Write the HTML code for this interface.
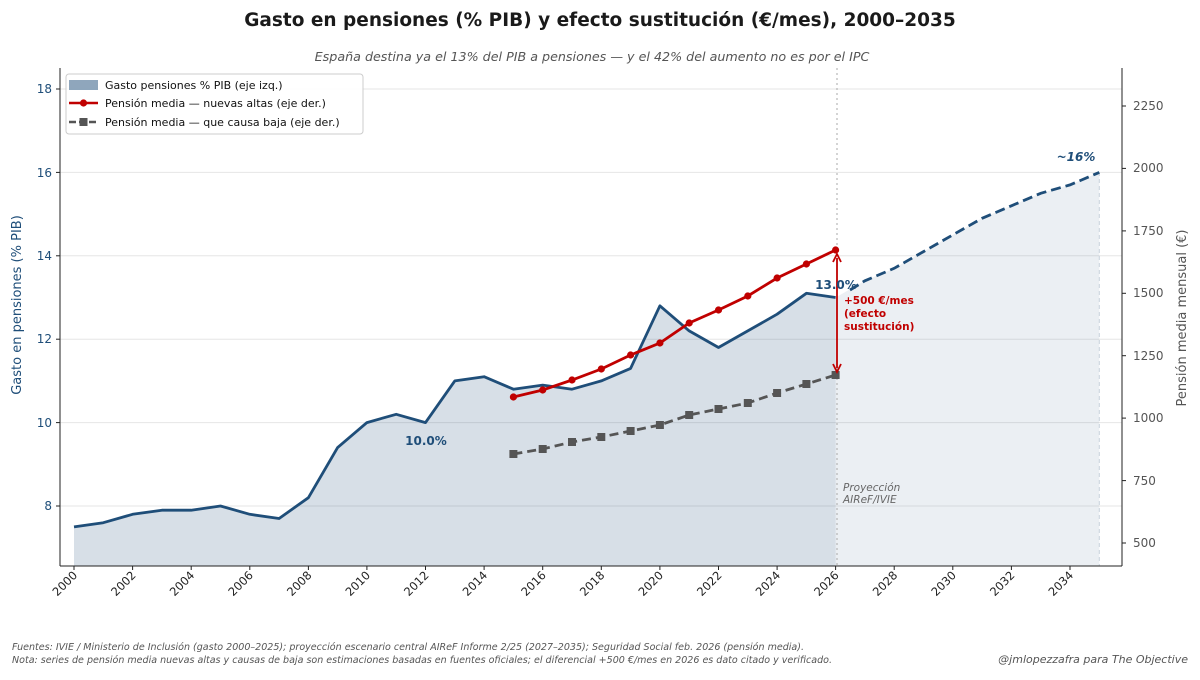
<!DOCTYPE html>
<html><head><meta charset="utf-8"><style>
body{margin:0;background:#fff;}
svg text{font-family:"DejaVu Sans","Liberation Sans",sans-serif;}
</style></head><body>
<svg width="1200" height="675" viewBox="0 0 1200 675" xmlns="http://www.w3.org/2000/svg">
<text x="600" y="26" text-anchor="middle" font-size="18.5" font-weight="bold" fill="#1a1a1a">Gasto en pensiones (% PIB) y efecto sustitución (€/mes), 2000–2035</text>
<text x="592" y="61" text-anchor="middle" font-size="12.7" font-style="italic" fill="#555">España destina ya el 13% del PIB a pensiones — y el 42% del aumento no es por el IPC</text>
<g stroke="#e6e6e6" stroke-width="1">
<line x1="60" x2="1122" y1="506" y2="506"/><line x1="60" x2="1122" y1="422.6" y2="422.6"/>
<line x1="60" x2="1122" y1="339.2" y2="339.2"/><line x1="60" x2="1122" y1="255.8" y2="255.8"/>
<line x1="60" x2="1122" y1="172.4" y2="172.4"/><line x1="60" x2="1122" y1="89" y2="89"/>
</g>
<polygon fill="#1f4e79" fill-opacity="0.18" points="74,566 74,526.9 103.3,522.7 132.6,514.3 161.9,510.2 191.2,510.2 220.5,506 249.8,514.3 279.1,518.5 308.4,497.7 337.6,447.6 366.9,422.6 396.2,414.3 425.5,422.6 454.8,380.9 484.1,376.7 513.4,389.2 542.7,385.1 572,389.2 601.3,380.9 630.6,368.4 659.9,305.8 689.2,330.9 718.5,347.5 747.8,330.9 777.1,314.2 806.4,293.3 835.6,297.5 835.6,566"/>
<polygon fill="#1f4e79" fill-opacity="0.09" points="835.6,566 835.6,297.5 864.9,280.8 894.2,268.3 923.5,251.6 952.8,234.9 982.1,218.3 1011.4,205.8 1040.7,193.3 1070,184.9 1099.3,172.4 1099.3,566"/>
<line x1="1099.3" x2="1099.3" y1="172" y2="566" stroke="#c8d2dc" stroke-dasharray="4,3"/>
<line x1="837" x2="837" y1="68" y2="566" stroke="#aaa" stroke-dasharray="2,3"/>
<polyline fill="none" stroke="#1f4e79" stroke-width="2.8" stroke-linejoin="round" points="74,526.9 103.3,522.7 132.6,514.3 161.9,510.2 191.2,510.2 220.5,506 249.8,514.3 279.1,518.5 308.4,497.7 337.6,447.6 366.9,422.6 396.2,414.3 425.5,422.6 454.8,380.9 484.1,376.7 513.4,389.2 542.7,385.1 572,389.2 601.3,380.9 630.6,368.4 659.9,305.8 689.2,330.9 718.5,347.5 747.8,330.9 777.1,314.2 806.4,293.3 835.6,297.5"/>
<polyline fill="none" stroke="#1f4e79" stroke-width="2.8" stroke-dasharray="10,5" points="850,290 864.9,280.8 894.2,268.3 923.5,251.6 952.8,234.9 982.1,218.3 1011.4,205.8 1040.7,193.3 1070,184.9 1099.3,172.4"/>
<polyline fill="none" stroke="#555" stroke-width="2.8" stroke-dasharray="9,5" points="513.4,454 542.7,449 572,442 601.3,437 630.6,431 659.9,425 689.2,415 718.5,409 747.8,403 777.1,393 806.4,384 835.6,375"/>
<g fill="#555">
<rect x="509.4" y="450" width="8" height="8"/><rect x="538.7" y="445" width="8" height="8"/><rect x="568" y="438" width="8" height="8"/><rect x="597.3" y="433" width="8" height="8"/><rect x="626.6" y="427" width="8" height="8"/><rect x="655.9" y="421" width="8" height="8"/><rect x="685.2" y="411" width="8" height="8"/><rect x="714.5" y="405" width="8" height="8"/><rect x="743.8" y="399" width="8" height="8"/><rect x="773.1" y="389" width="8" height="8"/><rect x="802.4" y="380" width="8" height="8"/><rect x="831.6" y="371" width="8" height="8"/>
</g>
<polyline fill="none" stroke="#c00000" stroke-width="2.8" points="513.4,397 542.7,390 572,380 601.3,369 630.6,355 659.9,343 689.2,323 718.5,310 747.8,296 777.1,278 806.4,264 835.6,250"/>
<g fill="#c00000">
<circle cx="513.4" cy="397" r="3.6"/><circle cx="542.7" cy="390" r="3.6"/><circle cx="572" cy="380" r="3.6"/><circle cx="601.3" cy="369" r="3.6"/><circle cx="630.6" cy="355" r="3.6"/><circle cx="659.9" cy="343" r="3.6"/><circle cx="689.2" cy="323" r="3.6"/><circle cx="718.5" cy="310" r="3.6"/><circle cx="747.8" cy="296" r="3.6"/><circle cx="777.1" cy="278" r="3.6"/><circle cx="806.4" cy="264" r="3.6"/><circle cx="835.6" cy="250" r="3.6"/>
</g>
<line x1="837" x2="837" y1="258" y2="368" stroke="#c00000" stroke-width="1.8"/>
<path d="M833,262 L837,254 L841,262" fill="none" stroke="#c00000" stroke-width="1.8"/>
<path d="M833,364 L837,372 L841,364" fill="none" stroke="#c00000" stroke-width="1.8"/>
<text x="844" y="304" font-size="10.5" font-weight="bold" fill="#c00000">+500 €/mes</text>
<text x="844" y="317" font-size="10.5" font-weight="bold" fill="#c00000">(efecto</text>
<text x="844" y="330" font-size="10.5" font-weight="bold" fill="#c00000">sustitución)</text>
<text x="836" y="289" text-anchor="middle" font-size="12" font-weight="bold" fill="#1f4e79">13.0%</text>
<text x="426" y="445" text-anchor="middle" font-size="12" font-weight="bold" fill="#1f4e79">10.0%</text>
<text x="1076" y="161" text-anchor="middle" font-size="12" font-weight="bold" font-style="italic" fill="#1f4e79">~16%</text>
<text x="843" y="491" font-size="10.5" font-style="italic" fill="#666">Proyección</text>
<text x="843" y="503" font-size="10.5" font-style="italic" fill="#666">AIReF/IVIE</text>
<g stroke="#222" stroke-width="1">
<line x1="60" x2="60" y1="68" y2="566"/><line x1="60" x2="1122" y1="566" y2="566"/><line x1="1122" x2="1122" y1="68" y2="566"/>
</g>
<g font-size="12" fill="#1f4e79" text-anchor="end">
<text x="52" y="510">8</text><text x="52" y="427">10</text><text x="52" y="343">12</text><text x="52" y="260">14</text><text x="52" y="177">16</text><text x="52" y="93">18</text>
</g>
<g stroke="#222"><line x1="56" x2="60" y1="506" y2="506"/><line x1="56" x2="60" y1="422.6" y2="422.6"/><line x1="56" x2="60" y1="339.2" y2="339.2"/><line x1="56" x2="60" y1="255.8" y2="255.8"/><line x1="56" x2="60" y1="172.4" y2="172.4"/><line x1="56" x2="60" y1="89" y2="89"/>
<line x1="1122" x2="1126" y1="543" y2="543"/><line x1="1122" x2="1126" y1="480.6" y2="480.6"/><line x1="1122" x2="1126" y1="418.1" y2="418.1"/><line x1="1122" x2="1126" y1="355.7" y2="355.7"/><line x1="1122" x2="1126" y1="293.3" y2="293.3"/><line x1="1122" x2="1126" y1="230.9" y2="230.9"/><line x1="1122" x2="1126" y1="168.4" y2="168.4"/><line x1="1122" x2="1126" y1="106" y2="106"/></g>
<g font-size="12" fill="#555">
<text x="1133" y="547">500</text><text x="1133" y="485">750</text><text x="1133" y="422">1000</text><text x="1133" y="360">1250</text><text x="1133" y="297">1500</text><text x="1133" y="235">1750</text><text x="1133" y="172">2000</text><text x="1133" y="110">2250</text>
</g>
<text transform="translate(21,305) rotate(-90)" text-anchor="middle" font-size="13" fill="#1f4e79">Gasto en pensiones (% PIB)</text>
<text transform="translate(1186,318) rotate(-90)" text-anchor="middle" font-size="13" fill="#555">Pensión media mensual (€)</text>
<g stroke="#222">
<line x1="74" x2="74" y1="566" y2="570"/><line x1="132.6" x2="132.6" y1="566" y2="570"/><line x1="191.2" x2="191.2" y1="566" y2="570"/><line x1="249.8" x2="249.8" y1="566" y2="570"/><line x1="308.4" x2="308.4" y1="566" y2="570"/><line x1="366.9" x2="366.9" y1="566" y2="570"/><line x1="425.5" x2="425.5" y1="566" y2="570"/><line x1="484.1" x2="484.1" y1="566" y2="570"/><line x1="542.7" x2="542.7" y1="566" y2="570"/><line x1="601.3" x2="601.3" y1="566" y2="570"/><line x1="659.9" x2="659.9" y1="566" y2="570"/><line x1="718.5" x2="718.5" y1="566" y2="570"/><line x1="777.1" x2="777.1" y1="566" y2="570"/><line x1="835.6" x2="835.6" y1="566" y2="570"/><line x1="894.2" x2="894.2" y1="566" y2="570"/><line x1="952.8" x2="952.8" y1="566" y2="570"/><line x1="1011.4" x2="1011.4" y1="566" y2="570"/><line x1="1070" x2="1070" y1="566" y2="570"/>
</g>
<g font-size="11.5" fill="#222" text-anchor="end">
<text transform="translate(78,576) rotate(-45)">2000</text><text transform="translate(136.6,576) rotate(-45)">2002</text><text transform="translate(195.2,576) rotate(-45)">2004</text><text transform="translate(253.8,576) rotate(-45)">2006</text><text transform="translate(312.4,576) rotate(-45)">2008</text><text transform="translate(370.9,576) rotate(-45)">2010</text><text transform="translate(429.5,576) rotate(-45)">2012</text><text transform="translate(488.1,576) rotate(-45)">2014</text><text transform="translate(546.7,576) rotate(-45)">2016</text><text transform="translate(605.3,576) rotate(-45)">2018</text><text transform="translate(663.9,576) rotate(-45)">2020</text><text transform="translate(722.5,576) rotate(-45)">2022</text><text transform="translate(781.1,576) rotate(-45)">2024</text><text transform="translate(839.6,576) rotate(-45)">2026</text><text transform="translate(898.2,576) rotate(-45)">2028</text><text transform="translate(956.8,576) rotate(-45)">2030</text><text transform="translate(1015.4,576) rotate(-45)">2032</text><text transform="translate(1074,576) rotate(-45)">2034</text>
</g>
<rect x="66" y="74" width="297" height="60" rx="3" fill="#fff" fill-opacity="0.9" stroke="#ccc"/>
<rect x="69" y="80" width="29" height="10" fill="#1f4e79" fill-opacity="0.5"/>
<text x="105" y="89" font-size="11" fill="#111">Gasto pensiones % PIB (eje izq.)</text>
<line x1="69" x2="98" y1="103" y2="103" stroke="#c00000" stroke-width="2.6"/><circle cx="83.5" cy="103" r="3.6" fill="#c00000"/>
<text x="105" y="107" font-size="11" fill="#111">Pensión media — nuevas altas (eje der.)</text>
<line x1="69" x2="98" y1="122" y2="122" stroke="#555" stroke-width="2.6" stroke-dasharray="7,3"/><rect x="79.5" y="118" width="8" height="8" fill="#555"/>
<text x="105" y="126" font-size="11" fill="#111">Pensión media — que causa baja (eje der.)</text>
<text x="12" y="650" font-size="9.5" font-style="italic" fill="#555" textLength="792" lengthAdjust="spacingAndGlyphs">Fuentes: IVIE / Ministerio de Inclusión (gasto 2000–2025); proyección escenario central AIReF Informe 2/25 (2027–2035); Seguridad Social feb. 2026 (pensión media).</text>
<text x="12" y="663" font-size="9.5" font-style="italic" fill="#555" textLength="820" lengthAdjust="spacingAndGlyphs">Nota: series de pensión media nuevas altas y causas de baja son estimaciones basadas en fuentes oficiales; el diferencial +500 €/mes en 2026 es dato citado y verificado.</text>
<text x="1188" y="663" text-anchor="end" font-size="11" font-style="italic" fill="#555">@jmlopezzafra para The Objective</text>
</svg>
</body></html>
